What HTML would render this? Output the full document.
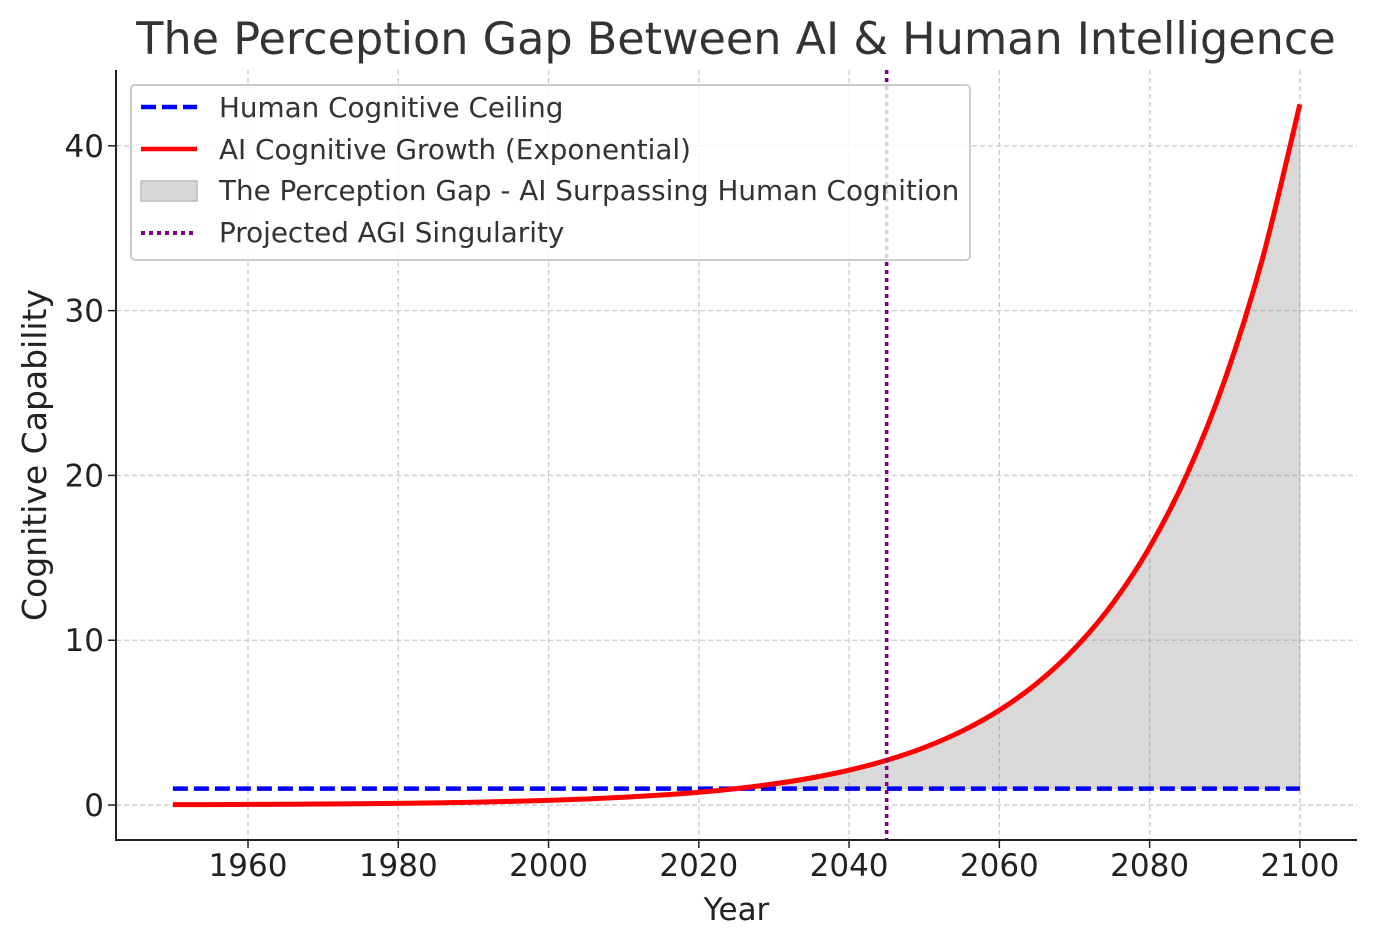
<!DOCTYPE html>
<html><head><meta charset="utf-8"><style>
body{margin:0;background:#fff;}
svg{display:block;font-family:"DejaVu Sans","Liberation Sans",sans-serif;}
</style></head><body>
<svg id="chart" width="1376" height="947" viewBox="0 0 1376 947">
<text x="736" y="54" font-size="44.5" fill="#333" text-anchor="middle">The Perception Gap Between AI &amp; Human Intelligence</text>
<g id="grid"></g>
<g id="plot"></g>
<g id="axes"></g>
<g id="legend">
<rect x="131" y="85" width="839" height="175" rx="4" fill="#fff" fill-opacity="0.8" stroke="#ccc" stroke-width="2"/>
<g><line x1="141" y1="107" x2="197" y2="107" stroke="#0000ff" stroke-width="4.5" stroke-dasharray="15,6"/><text x="219" y="117" font-size="27.8" fill="#333">Human Cognitive Ceiling</text></g>
<g><line x1="141" y1="149" x2="197" y2="149" stroke="#ff0000" stroke-width="4.5"/><text x="219" y="159" font-size="27.8" fill="#333">AI Cognitive Growth (Exponential)</text></g>
<g><rect x="141" y="181" width="56" height="20" fill="#d8d8d8" stroke="#bbb" stroke-width="1.5"/><text x="219" y="200" font-size="27.8" fill="#333">The Perception Gap - AI Surpassing Human Cognition</text></g>
<g><line x1="141" y1="233" x2="197" y2="233" stroke="#800080" stroke-width="4" stroke-dasharray="4,4"/><text x="219" y="242" font-size="27.8" fill="#333">Projected AGI Singularity</text></g>
</g>
</svg>
<script>
const years=[1950,1955,1960,1965,1970,1975,1980,1985,1990,1995,2000,2005,2010,2015,2020,2025,2030,2035,2040,2045,2050,2055,2060,2065,2070,2075,2080,2085,2090,2095,2100];
const aiValues=[0.024,0.030,0.039,0.050,0.064,0.082,0.105,0.135,0.174,0.223,0.287,0.368,0.472,0.607,0.779,1.0,1.284,1.649,2.117,2.718,3.490,4.482,5.755,7.389,9.488,12.18,15.64,20.09,25.79,33.12,42.52];
const humanCeiling=1;
const agiYear=2045;
const xTicks=[1960,1980,2000,2020,2040,2060,2080,2100];
const yTicks=[0,10,20,30,40];
const L=116,R=1357,T=70,B=840;
const xMin=1942.43,xMax=2107.6,yMin=-2.12,yMax=44.6;
const X=v=>L+(v-xMin)/(xMax-xMin)*(R-L);
const Y=v=>B-(v-yMin)/(yMax-yMin)*(B-T);
const NS="http://www.w3.org/2000/svg";
function mk(tag,attrs,parent){const e=document.createElementNS(NS,tag);for(const k in attrs)e.setAttribute(k,attrs[k]);parent.appendChild(e);return e;}
const grid=document.getElementById('grid'),plot=document.getElementById('plot'),axes=document.getElementById('axes');
xTicks.forEach(t=>{
 const g=mk('line',{x1:X(t),x2:X(t),y1:T,y2:B,stroke:'#ccc','stroke-width':1.3,'stroke-dasharray':'5,3'},grid);
 
 
 const tk=mk('line',{x1:X(t),x2:X(t),y1:B,y2:B+8,stroke:'#222','stroke-width':1.5},axes);
 
 
 const tx=mk('text',{x:X(t),y:B+36,'font-size':31,fill:'#222','text-anchor':'middle'},axes);
 tx.textContent=t;
 
 
});
yTicks.forEach(t=>{
 const g=mk('line',{x1:L,x2:R,y1:Y(t),y2:Y(t),stroke:'#ccc','stroke-width':1.3,'stroke-dasharray':'5,3'},grid);
 
 
 const tk=mk('line',{x1:L-8,x2:L,y1:Y(t),y2:Y(t),stroke:'#222','stroke-width':1.5},axes);
 
 
 const tx=mk('text',{x:L-12,y:Y(t)+11,'font-size':31,fill:'#222','text-anchor':'end'},axes);
 tx.textContent=t;
 
 
});
const ax=mk('path',{d:`M${L},${T}V${B}H${R}`,fill:'none',stroke:'#222','stroke-width':2},axes);


const xl=mk('text',{x:(L+R)/2,y:920,'font-size':31,fill:'#222','text-anchor':'middle'},axes);
xl.textContent='Year';


const yl=mk('text',{x:0,y:0,'font-size':33,fill:'#222','text-anchor':'middle',transform:`translate(46,${(T+B)/2}) rotate(-90)`},axes);
yl.textContent='Cognitive Capability';


const pts=years.map((y,i)=>[X(y),Y(aiValues[i])]);
function smooth(p){let d=`M${p[0][0]},${p[0][1]}`;for(let i=0;i<p.length-1;i++){const p0=p[i-1]||p[i],p1=p[i],p2=p[i+1],p3=p[i+2]||p2;d+=`C${p1[0]+(p2[0]-p0[0])/6},${p1[1]+(p2[1]-p0[1])/6} ${p2[0]-(p3[0]-p1[0])/6},${p2[1]-(p3[1]-p1[1])/6} ${p2[0]},${p2[1]}`;}return d;}
const idx=years.map((y,i)=>i).filter(i=>aiValues[i]>=humanCeiling);
const gp=idx.map(i=>pts[i]);
const last=gp[gp.length-1];
const fd=smooth(gp)+`L${last[0]},${Y(humanCeiling)}L${gp[0][0]},${Y(humanCeiling)}Z`;
const fill=mk('path',{d:fd,fill:'#808080','fill-opacity':0.3,stroke:'#888','stroke-opacity':0.3},plot);


const hl=mk('line',{x1:X(years[0]),x2:X(years[years.length-1]),y1:Y(humanCeiling),y2:Y(humanCeiling),stroke:'#0000ff','stroke-width':4.5,'stroke-dasharray':'15,6'},plot);


const ai=mk('path',{d:smooth(pts),fill:'none',stroke:'#ff0000','stroke-width':5},plot);


const agi=mk('line',{x1:X(agiYear),x2:X(agiYear),y1:T,y2:B,stroke:'#800080','stroke-width':3.5,'stroke-dasharray':'4,4'},plot);


</script>
</body></html>
